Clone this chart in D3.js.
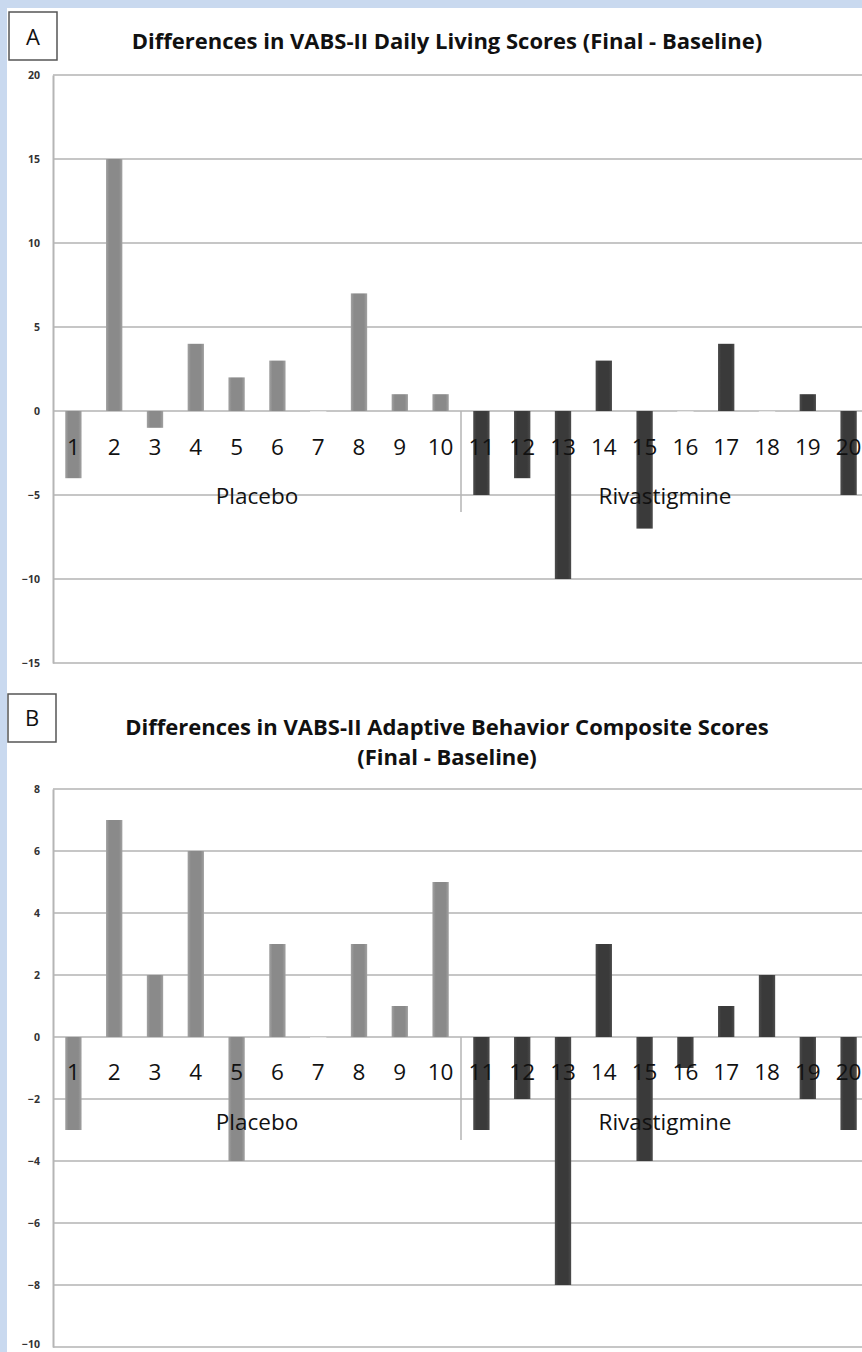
<!DOCTYPE html>
<html><head><meta charset="utf-8">
<script src="https://cdn.jsdelivr.net/npm/d3@7"></script>
<style>
html,body{margin:0;padding:0;background:#c9d9ef;}
svg{display:block;}
</style></head>
<body>
<svg id="c" width="862" height="1352"></svg>
<script>
const subjects = ["1","2","3","4","5","6","7","8","9","10","11","12","13","14","15","16","17","18","19","20"];
const groupOf = ["Placebo","Placebo","Placebo","Placebo","Placebo","Placebo","Placebo","Placebo","Placebo","Placebo",
  "Rivastigmine","Rivastigmine","Rivastigmine","Rivastigmine","Rivastigmine","Rivastigmine","Rivastigmine","Rivastigmine","Rivastigmine","Rivastigmine"];
const dailyLiving = [-4,15,-1,4,2,3,0,7,1,1,-5,-4,-10,3,-7,0,4,0,1,-5];
const adaptiveComposite = [-3,7,2,6,-4,3,0,3,1,5,-3,-2,-8,3,-4,-1,1,2,-2,-3];
const ticksA = [20,15,10,5,0,-5,-10,-15];
const ticksB = [8,6,4,2,0,-2,-4,-6,-8,-10];
const groups = ["Placebo","Rivastigmine"];
const titleA = ["Differences in VABS-II Daily Living Scores (Final - Baseline)"];
const titleB = ["Differences in VABS-II Adaptive Behavior Composite Scores","(Final - Baseline)"];

const svg = d3.select("#c");
svg.append("rect").attr("x",7).attr("y",8).attr("width",855).attr("height",1344).attr("fill","#fff");

const defs = svg.append("defs");
const g1 = defs.append("linearGradient").attr("id","gPlac").attr("x1","0").attr("x2","1").attr("y1","0").attr("y2","0");
g1.append("stop").attr("offset","0").attr("stop-color","#a2a2a2");
g1.append("stop").attr("offset","0.2").attr("stop-color","#8a8a8a");
g1.append("stop").attr("offset","0.8").attr("stop-color","#8a8a8a");
g1.append("stop").attr("offset","1").attr("stop-color","#a2a2a2");
const g2 = defs.append("linearGradient").attr("id","gRiv").attr("x1","0").attr("x2","1").attr("y1","0").attr("y2","0");
g2.append("stop").attr("offset","0").attr("stop-color","#4c4c4c");
g2.append("stop").attr("offset","0.2").attr("stop-color","#3a3a3a");
g2.append("stop").attr("offset","0.8").attr("stop-color","#3a3a3a");
g2.append("stop").attr("offset","1").attr("stop-color","#4c4c4c");

const fontTitle = "'Open Sans', Lato, sans-serif";
const fontCat = "'Open Sans', Lato, sans-serif";

function panel(cfg){
  const {letter, box, letterY, titles, titleY, titleDy, values, ticks, yTop, yBot, labelDy, groupDy, sepBottom} = cfg;
  const g = svg.append("g");
  g.append("rect").attr("x",box[0]).attr("y",box[1]).attr("width",48).attr("height",48)
    .attr("fill","#fff").attr("stroke","#555").attr("stroke-width",1.5);
  g.append("text").attr("x",box[0]+24).attr("y",letterY).attr("text-anchor","middle")
    .attr("font-family",fontCat).attr("font-size",22).attr("fill","#111").text(letter);
  titles.forEach((t,i)=>{
    g.append("text").attr("x",447).attr("y",titleY + i*titleDy).attr("text-anchor","middle")
      .attr("font-family",fontTitle).attr("font-weight","bold").attr("font-size",22).attr("fill","#111").text(t);
  });
  const y = d3.scaleLinear().domain([d3.min(ticks), d3.max(ticks)]).range([yBot, yTop]);
  const x = d3.scaleBand().domain(subjects).range([53, 53 + 40.8*20]).paddingInner(0.6).paddingOuter(0.3);
  g.append("g").selectAll("line").data(ticks).join("line")
    .attr("x1",53).attr("x2",862).attr("y1",d=>y(d)).attr("y2",d=>y(d))
    .attr("stroke","#c6c6c6").attr("stroke-width",2);
  const ax = g.append("g").attr("transform","translate(53,0)")
    .call(d3.axisLeft(y).tickValues(ticks).tickSize(0).tickPadding(13).tickFormat(d3.format("d")));
  ax.select(".domain").attr("stroke","#b5b5b5").attr("stroke-width",2);
  ax.selectAll("text").attr("font-family",fontTitle).attr("font-weight","bold").attr("font-size",10.5).attr("fill","#333");
  ax.selectAll(".tick").filter(d=>y(d) > 1340).select("text").attr("dy","0.05em");
  g.append("g").selectAll("rect").data(subjects).join("rect")
    .attr("x",d=>x(d)).attr("width",x.bandwidth())
    .attr("y",(d,i)=>y(Math.max(0,values[i])))
    .attr("height",(d,i)=>Math.max(Math.abs(y(values[i])-y(0)),1))
    .attr("fill",(d,i)=>values[i]===0 ? "#e6e6e6" : (groupOf[i]==="Placebo" ? "url(#gPlac)" : "url(#gRiv)"));
  const sepX = x("11") - x.step()*0.3;
  g.append("line").attr("x1",sepX).attr("x2",sepX).attr("y1",y(0)).attr("y2",sepBottom)
    .attr("stroke","#b5b5b5").attr("stroke-width",1.5);
  g.append("g").selectAll("text").data(subjects).join("text")
    .attr("x",d=>x(d)+x.bandwidth()/2).attr("y",y(0)+labelDy).attr("text-anchor","middle")
    .attr("font-family",fontCat).attr("font-size",22.5).attr("fill","#111").text(d=>d);
  groups.forEach((gr)=>{
    const members = subjects.filter((s,i)=>groupOf[i]===gr);
    const cx = (x(members[0]) + x(members[members.length-1]) + x.bandwidth())/2;
    g.append("text").attr("x",cx).attr("y",y(0)+groupDy).attr("text-anchor","middle")
      .attr("font-family",fontCat).attr("font-size",22.5).attr("fill","#111").text(gr);
  });
}

panel({letter:"A", box:[9,12], letterY:45, titles:titleA, titleY:49, titleDy:0, values:dailyLiving, ticks:ticksA,
  yTop:75, yBot:663, labelDy:44, groupDy:93, sepBottom:512});
panel({letter:"B", box:[8,694], letterY:726, titles:titleB, titleY:735, titleDy:30, values:adaptiveComposite, ticks:ticksB,
  yTop:789, yBot:1347, labelDy:43, groupDy:93, sepBottom:1140});
</script>
</body></html>
